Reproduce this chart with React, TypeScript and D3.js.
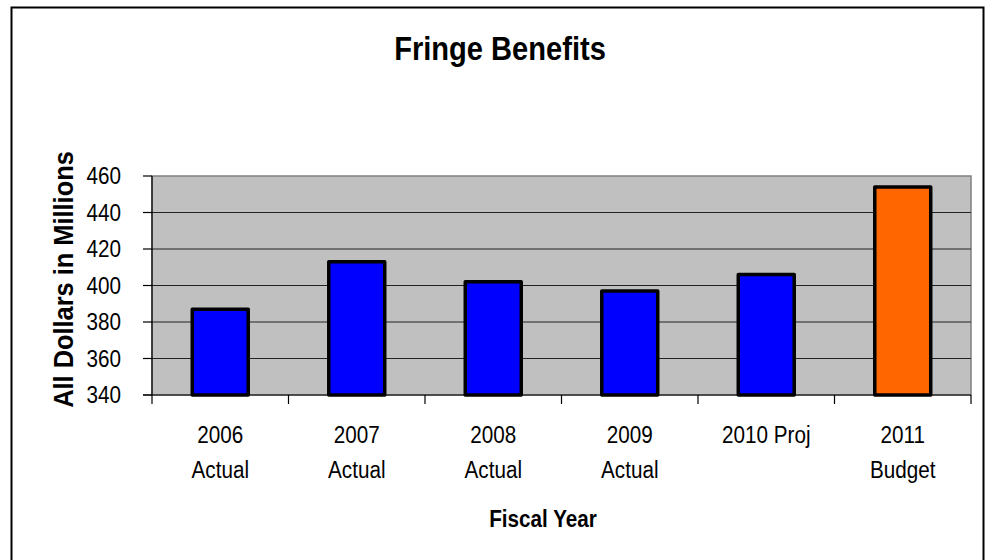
import React from "react";
import * as d3 from "d3";

const categories = ["2006 Actual", "2007 Actual", "2008 Actual", "2009 Actual", "2010 Proj", "2011 Budget"];
const labelLines = [["2006", "Actual"], ["2007", "Actual"], ["2008", "Actual"], ["2009", "Actual"], ["2010 Proj"], ["2011", "Budget"]];
const values = [387, 413, 402, 397, 406, 454];
const barColors = ["#0000FF", "#0000FF", "#0000FF", "#0000FF", "#0000FF", "#FF6600"];
const yTicks = [340, 360, 380, 400, 420, 440, 460];
const title = "Fringe Benefits";
const xTitle = "Fiscal Year";
const yTitle = "All Dollars in Millions";

const W = 989, H = 560;
const plot = { left: 152, right: 971, top: 176, bottom: 395 };
const font = "'Liberation Sans', Arial, Helvetica, sans-serif";

function T(props: { x: number; y: number; size: number; bold?: boolean; anchor?: string; rotate?: number; sx?: number; sy?: number; children: React.ReactNode }) {
  const { x, y, size, bold, anchor = "middle", rotate = 0, sx = 0.94, sy = 1.12, children } = props;
  return (
    <g transform={`translate(${x},${y}) rotate(${rotate}) scale(${sx},${sy})`}>
      <text x={0} y={0} textAnchor={anchor} fontFamily={font} fontWeight={bold ? "bold" : "normal"} fontSize={size}>{children}</text>
    </g>
  );
}

export default function App() {
  const pad = 0.59;
  const x = d3.scaleBand<string>().domain(categories).range([plot.left, plot.right]).paddingInner(pad).paddingOuter(pad / 2);
  const y = d3.scaleLinear().domain([340, 460]).range([plot.bottom, plot.top]);
  const step = x.step();
  const boundaries = d3.range(categories.length + 1).map((i) => plot.left + i * step);

  return (
    <div style={{ position: "absolute", left: 0, top: 0 }}>
      <svg width={W} height={H} style={{ display: "block" }}>
        <rect x={0} y={0} width={W} height={H} fill="#fff" />
        <rect x={11.5} y={7.5} width={972} height={600} fill="#fff" stroke="#000" strokeWidth={2} />
        <T x={500} y={60} size={30} sx={0.97} sy={1.08} bold>{title}</T>
        <rect x={plot.left} y={plot.top} width={plot.right - plot.left} height={plot.bottom - plot.top} fill="#C0C0C0" stroke="#808080" strokeWidth={1.5} />
        {yTicks.map((t) => (
          <g key={t}>
            {t !== 340 && t !== 460 && <line x1={plot.left} x2={plot.right} y1={y(t)} y2={y(t)} stroke="#222" strokeWidth={1.2} />}
            <line x1={plot.left - 9} x2={plot.left} y1={y(t)} y2={y(t)} stroke="#000" strokeWidth={1.2} />
            <T x={121} y={y(t) + 8} size={22} anchor="end">{t}</T>
          </g>
        ))}
        {categories.map((c, i) => (
          <rect key={c} x={x(c)!} y={y(values[i])} width={x.bandwidth()} height={plot.bottom - y(values[i])}
            fill={barColors[i]} stroke="#000" strokeWidth={3.5} strokeLinejoin="round" />
        ))}
        <line x1={plot.left} x2={plot.left} y1={plot.top} y2={plot.bottom} stroke="#000" strokeWidth={1.2} />
        <line x1={plot.left - 9} x2={plot.right} y1={plot.bottom} y2={plot.bottom} stroke="#000" strokeWidth={1.2} />
        {boundaries.map((b, i) => (
          <line key={i} x1={b} x2={b} y1={plot.bottom} y2={plot.bottom + 9} stroke="#000" strokeWidth={1.2} />
        ))}
        {categories.map((c, i) =>
          labelLines[i].map((l, j) => (
            <T key={c + j} x={x(c)! + x.bandwidth() / 2} y={443 + j * 35} size={22}>{l}</T>
          ))
        )}
        <T x={543} y={527} size={22} bold>{xTitle}</T>
        <T x={73} y={(plot.top + plot.bottom) / 2 - 6} size={27} sx={0.94} sy={1.0} bold rotate={-90}>{yTitle}</T>
      </svg>
    </div>
  );
}
